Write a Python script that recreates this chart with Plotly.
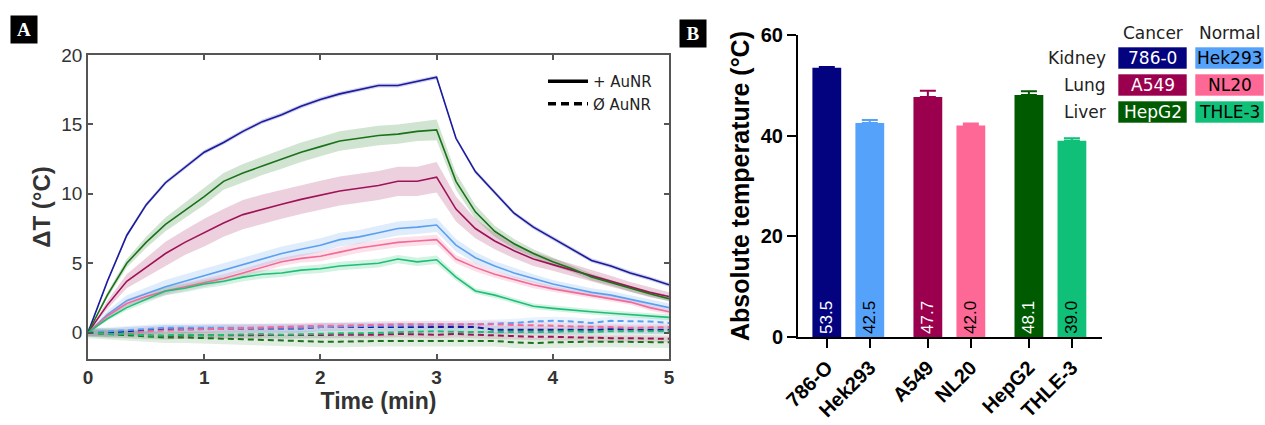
import numpy as np
import plotly.graph_objects as go

# ---------------- DATA ----------------
time_min = list(np.round(np.linspace(0, 5, 31), 4))

cell_lines = ["786-O", "Hek293", "A549", "NL20", "HepG2", "THLE-3"]
legend_names = ["786-0", "Hek293", "A549", "NL20", "HepG2", "THLE-3"]
organs = ["Kidney", "Lung", "Liver"]

# + AuNR mean dT (°C)
dt_786o = [0, 3.7, 7.0, 9.2, 10.8, 11.9, 13.0, 13.7, 14.5, 15.2, 15.7, 16.3, 16.8, 17.2, 17.5, 17.8,
           17.8, 18.1, 18.4, 14.0, 11.6, 10.1, 8.6, 7.6, 6.8, 6.0, 5.2, 4.8, 4.3, 3.9, 3.45]
dt_hek293 = [0, 1.3, 2.3, 2.8, 3.3, 3.7, 4.1, 4.5, 4.9, 5.3, 5.7, 6.0, 6.3, 6.7, 6.9, 7.2,
             7.5, 7.6, 7.75, 6.3, 5.4, 4.8, 4.3, 3.9, 3.5, 3.2, 2.9, 2.7, 2.4, 2.1, 1.8]
dt_a549 = [0, 2.0, 3.7, 4.7, 5.7, 6.5, 7.2, 7.9, 8.5, 8.9, 9.25, 9.6, 9.9, 10.2, 10.4, 10.6,
           10.9, 10.9, 11.2, 8.9, 7.5, 6.6, 5.9, 5.3, 4.9, 4.5, 4.1, 3.7, 3.3, 2.9, 2.6]
dt_nl20 = [0, 1.2, 2.1, 2.6, 3.0, 3.3, 3.6, 3.9, 4.3, 4.7, 5.1, 5.35, 5.5, 5.8, 6.1, 6.3,
           6.5, 6.6, 6.7, 5.3, 4.7, 4.2, 3.8, 3.45, 3.15, 2.9, 2.7, 2.45, 2.2, 1.8, 1.5]
dt_hepg2 = [0, 2.7, 5.0, 6.5, 7.8, 8.8, 9.8, 10.9, 11.5, 12.0, 12.5, 13.0, 13.4, 13.8, 14.0, 14.2,
            14.3, 14.5, 14.6, 10.9, 8.7, 7.3, 6.4, 5.7, 5.1, 4.6, 4.0, 3.6, 3.15, 2.8, 2.45]
dt_thle3 = [0, 1.0, 1.8, 2.4, 3.0, 3.2, 3.5, 3.7, 4.0, 4.2, 4.3, 4.5, 4.6, 4.8, 4.9, 5.0,
            5.3, 5.1, 5.25, 4.0, 3.0, 2.7, 2.3, 1.9, 1.75, 1.6, 1.5, 1.4, 1.3, 1.2, 1.1]

# + AuNR SD
sd_786o = [0] + [0.15] * 30
sd_hek293 = [0, .3, .4, .45, .5, .5, .5, .5, .5, .5, .5, .5, .5, .5, .5, .5, .5, .5, .5,
             .45, .4, .35, .35, .3, .3, .3, .3, .3, .3, .3, .3]
sd_a549 = [0, .3, .5, .7, .85, .9, 1.0, 1.0, 1.05, 1.05, 1.05, 1.05, 1.05, 1.05, 1.05, 1.05, 1.05, 1.05, 1.1,
           .9, .7, .6, .55, .5, .45, .45, .4, .4, .35, .35, .3]
sd_nl20 = [0, .2, .3, .3, .3, .3, .3, .3, .3, .3, .3, .3, .35, .35, .35, .35, .35, .35, .35,
           .3, .3, .25, .25, .25, .2, .2, .2, .2, .2, .2, .2]
sd_hepg2 = [0, .2, .3, .4, .5, .55, .6, .6, .65, .65, .7, .7, .7, .7, .7, .7, .7, .7, .75,
            .6, .5, .4, .35, .3, .3, .25, .25, .2, .2, .2, .2]
sd_thle3 = [0, .15, .2, .25, .3, .3, .3, .3, .3, .3, .3, .3, .3, .3, .3, .3, .3, .3, .3,
            .25, .2, .2, .2, .2, .2, .2, .2, .2, .2, .2, .2]

# no AuNR mean dT (°C)
ct_786o = [0, 0.0, 0.1, 0.2, 0.25, 0.25, 0.3, 0.3, 0.3, 0.3, 0.35, 0.3, 0.4, 0.4, 0.45, 0.4,
           0.45, 0.45, 0.45, 0.4, 0.4, 0.2, 0.2, 0.15, 0.2, 0.2, 0.2, 0.25, 0.2, 0.2, 0.2]
ct_hek293 = [0, 0.1, 0.2, 0.3, 0.35, 0.35, 0.35, 0.3, 0.3, 0.35, 0.3, 0.35, 0.4, 0.45, 0.5, 0.5,
             0.5, 0.55, 0.55, 0.55, 0.6, 0.6, 0.7, 0.8, 0.85, 0.8, 0.7, 0.85, 0.85, 0.8, 0.7]
ct_a549 = [0, -0.1, -0.15, -0.2, -0.25, -0.2, -0.2, -0.2, -0.15, -0.2, -0.2, -0.2, -0.2, -0.15, -0.15, -0.15,
           -0.1, -0.15, -0.15, -0.1, -0.15, -0.25, -0.3, -0.3, -0.3, -0.35, -0.4, -0.4, -0.4, -0.45, -0.45]
ct_nl20 = [0, -0.1, -0.1, 0.1, 0.15, 0.2, 0.25, 0.3, 0.35, 0.35, 0.4, 0.45, 0.5, 0.5, 0.55, 0.55,
           0.6, 0.6, 0.6, 0.65, 0.6, 0.6, 0.55, 0.55, 0.5, 0.45, 0.45, 0.4, 0.35, 0.4, 0.4]
ct_hepg2 = [0, -0.1, -0.2, -0.3, -0.35, -0.35, -0.4, -0.45, -0.5, -0.55, -0.6, -0.6, -0.65, -0.65, -0.6, -0.6,
            -0.6, -0.6, -0.55, -0.6, -0.55, -0.6, -0.7, -0.75, -0.7, -0.65, -0.65, -0.65, -0.65, -0.7, -0.7]
ct_thle3 = [0, -0.1, -0.1, -0.2, -0.2, -0.15, -0.2, -0.15, -0.1, -0.1, -0.15, -0.1, -0.1, -0.05, -0.05, 0.0,
            0.05, 0.1, 0.1, 0.05, 0.05, 0.0, 0.0, 0.05, 0.05, 0.1, 0.05, 0.1, 0.1, 0.15, 0.1]
ct_sd = [0.3, 0.3, 0.25, 0.25, 0.4, 0.3]

# Panel B absolute temperatures
abs_temp = [53.5, 42.5, 47.7, 42.0, 48.1, 39.0]
abs_err = [0.15, 0.6, 1.2, 0.4, 0.7, 0.5]

# ---------------- STYLE ----------------
line_colors = ["#1a1a9c", "#5c9ff0", "#a01258", "#f26a98", "#1a721a", "#1cbf74"]
bar_colors = ["#03037f", "#55a2fa", "#9b004f", "#fd6896", "#005a00", "#10c079"]
band_rgb = ["26,26,156", "92,159,240", "160,18,88", "242,106,152", "26,114,26", "28,191,116"]
label_colors = ["white", "black", "white", "black", "white", "black"]
bar_x = [0, 1, 2.35, 3.35, 4.7, 5.7]

W, H, OFF = 1265, 425, 0  # body margin removed via post_script


def px(x):
    return (x - OFF) / W


def py(y):
    return 1 - (y - OFF) / H


solid = [dt_786o, dt_hek293, dt_a549, dt_nl20, dt_hepg2, dt_thle3]
solid_sd = [sd_786o, sd_hek293, sd_a549, sd_nl20, sd_hepg2, sd_thle3]
ctrl = [ct_786o, ct_hek293, ct_a549, ct_nl20, ct_hepg2, ct_thle3]

fig = go.Figure()


def add_band(mean, sd, i, alpha):
    lo = [m - s for m, s in zip(mean, sd)]
    hi = [m + s for m, s in zip(mean, sd)]
    fig.add_trace(go.Scatter(x=time_min, y=lo, mode="lines", line=dict(width=0),
                             showlegend=False, hoverinfo="skip", xaxis="x", yaxis="y"))
    fig.add_trace(go.Scatter(x=time_min, y=hi, mode="lines", line=dict(width=0), fill="tonexty",
                             fillcolor=f"rgba({band_rgb[i]},{alpha})",
                             showlegend=False, hoverinfo="skip", xaxis="x", yaxis="y"))


for i in range(6):
    add_band(ctrl[i], [ct_sd[i]] * len(time_min), i, 0.13)
for i in range(6):
    fig.add_trace(go.Scatter(x=time_min, y=ctrl[i], mode="lines",
                             line=dict(color=line_colors[i], width=2, dash="6px,4px"),
                             showlegend=False, xaxis="x", yaxis="y"))
for i in range(6):
    add_band(solid[i], solid_sd[i], i, 0.2)
for i in range(6):
    fig.add_trace(go.Scatter(x=time_min, y=solid[i], mode="lines",
                             line=dict(color=line_colors[i], width=1.6),
                             showlegend=False, xaxis="x", yaxis="y"))

fig.add_trace(go.Scatter(x=[None], y=[None], mode="lines", name="+ AuNR", legendgroup="a",
                         line=dict(color="black", width=3.5), xaxis="x", yaxis="y"))
fig.add_trace(go.Scatter(x=[None], y=[None], mode="lines", name="Ø AuNR", legendgroup="b",
                         line=dict(color="black", width=3.5, dash="8px,5px"), xaxis="x", yaxis="y"))

fig.add_trace(go.Bar(
    x=bar_x, y=abs_temp, width=0.67, marker=dict(color=bar_colors, line=dict(width=0)),
    text=[f"{v:.1f}" for v in abs_temp], textposition="inside", insidetextanchor="start",
    textangle=-90, textfont=dict(color=label_colors, size=17, family="Liberation Sans"),
    showlegend=False, xaxis="x2", yaxis="y2"))
for i in range(6):
    fig.add_trace(go.Scatter(x=[bar_x[i]], y=[abs_temp[i]], mode="markers",
                             marker=dict(size=0.1, color=bar_colors[i], opacity=0),
                             error_y=dict(type="data", symmetric=False, array=[abs_err[i]], arrayminus=[0],
                                          color=bar_colors[i], thickness=2, width=8),
                             showlegend=False, hoverinfo="skip", xaxis="x2", yaxis="y2"))

tickfontA = dict(family="Liberation Sans", size=19, color="#333")
fig.update_layout(
    width=W, height=H, margin=dict(l=0, r=0, t=0, b=0),
    paper_bgcolor="white", plot_bgcolor="white",
    xaxis=dict(domain=[px(88), px(669)], range=[0, 5], dtick=1, automargin=False,
               showline=True, linecolor="#555", linewidth=1.5, mirror="ticks",
               ticks="inside", ticklen=5, tickcolor="#555", tickwidth=1.5,
               showgrid=False, zeroline=False,
               tickfont=tickfontA, tickprefix="<b>", ticksuffix="</b>",
               title=dict(text="<b>Time (min)</b>", font=dict(family="Liberation Sans", size=23, color="#333"),
                          standoff=4)),
    yaxis=dict(domain=[py(359), py(55)], range=[-1.9, 20], tickvals=[0, 5, 10, 15, 20],
               automargin=False,
               showline=True, linecolor="#555", linewidth=1.5, mirror="ticks",
               ticks="inside", ticklen=5, tickcolor="#555", tickwidth=1.5,
               showgrid=False, zeroline=False,
               tickfont=tickfontA, tickprefix="<b>", ticksuffix="</b>",
               title=dict(text="<b>ΔT (°C)</b>", font=dict(family="Liberation Sans", size=24, color="#333"),
                          standoff=4)),
    xaxis2=dict(domain=[px(798), px(1102)], range=[-0.67, 6.4], anchor="y2", automargin=False,
                tickvals=bar_x, ticktext=[f"<b>{c}</b>" for c in cell_lines], tickangle=-45,
                showline=True, linecolor="black", linewidth=2, ticks="outside", ticklen=9,
                tickwidth=2, tickcolor="black", showgrid=False, zeroline=False,
                tickfont=dict(family="Liberation Sans", size=20, color="black")),
    yaxis2=dict(domain=[py(337), py(35)], range=[0, 60], anchor="x2", dtick=20,
                automargin=False,
                showline=True, linecolor="black", linewidth=2, ticks="outside", ticklen=9,
                tickwidth=2, tickcolor="black", showgrid=False, zeroline=False,
                tickfont=dict(family="Liberation Sans", size=20, color="black"),
                tickprefix="<b>", ticksuffix="</b>",
                title=dict(text="<b>Absolute temperature (°C)</b>",
                           font=dict(family="Liberation Sans", size=25, color="black"), standoff=4)),
    legend=dict(x=px(543), y=py(65), xanchor="left", yanchor="top", traceorder="normal",
                bgcolor="rgba(0,0,0,0)", font=dict(family="DejaVu Sans", size=15, color="#222"),
                itemwidth=40, tracegroupgap=12),
    barmode="overlay",
)

for letter, cx, cy in [("A", 23.5, 29), ("B", 693, 34)]:
    fig.add_annotation(x=px(cx), y=py(cy), xref="paper", yref="paper", xanchor="center", yanchor="middle",
                       text=f"<b>{letter}</b>", showarrow=False, bgcolor="black",
                       font=dict(family="Liberation Serif", size=19, color="white"),
                       width=22, height=23, borderpad=2)

col_x = [(1118, 1187), (1195, 1264)]
row_y = [(47, 69), (74, 96), (101, 123)]
for j, head in enumerate(["Cancer", "Normal"]):
    fig.add_annotation(x=px((col_x[j][0] + col_x[j][1]) / 2), y=py(33), xref="paper", yref="paper",
                       xanchor="center", yanchor="middle",
                       text=head, showarrow=False, font=dict(family="DejaVu Sans", size=17, color="#222"))
for r, organ in enumerate(organs):
    y0, y1 = row_y[r]
    fig.add_annotation(x=px(1108), y=py((y0 + y1) / 2), xref="paper", yref="paper",
                       xanchor="right", yanchor="middle", text=organ, showarrow=False,
                       font=dict(family="DejaVu Sans", size=17, color="#222"))
    for j in range(2):
        k = 2 * r + j
        x0, x1 = col_x[j]
        fig.add_shape(type="rect", xref="paper", yref="paper", x0=px(x0), x1=px(x1),
                      y0=py(y1), y1=py(y0), fillcolor=bar_colors[k], layer="below",
                      line=dict(color="rgba(255,255,255,0.6)", width=1))
        fig.add_annotation(x=px((x0 + x1) / 2), y=py((y0 + y1) / 2), xref="paper", yref="paper",
                           xanchor="center", yanchor="middle",
                           text=legend_names[k], showarrow=False,
                           font=dict(family="DejaVu Sans", size=17, color=label_colors[k]))

fig.write_html("out.html", config={"displayModeBar": False},
               post_script="document.body.style.margin='0';document.body.style.overflow='hidden';")
